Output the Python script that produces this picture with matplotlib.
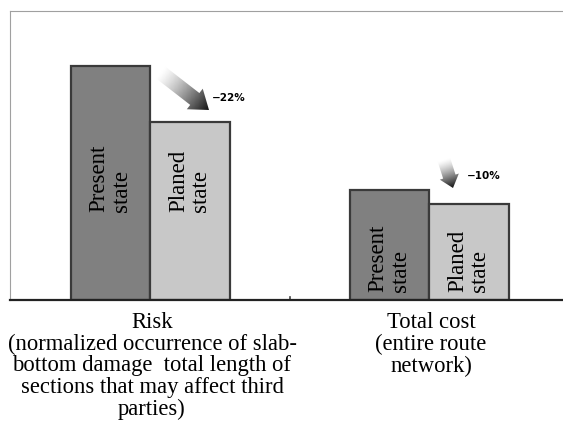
import numpy as np
import matplotlib
matplotlib.use('Agg')
import matplotlib.pyplot as plt
from matplotlib.patches import FancyArrow

# data (normalised to present-state risk)
groups = ['Risk\n(normalized occurrence of slab-\nbottom damage  total length of\nsections that may affect third\nparties)',
          'Total cost\n(entire route\nnetwork)']
present = [1.00, 0.47]
planed = [0.76, 0.41]
changes = ['\u221222%', '\u221210%']
bar_names = ['Present\nstate', 'Planed\nstate']

group_x = [150, 429]   # centres of each pair
bw = 79.5

plt.rcParams['font.family'] = ['Liberation Serif', 'DejaVu Serif']

fig = plt.figure(figsize=(5.63, 4.28), dpi=100)
ax = fig.add_axes([10/563, 128/428, 553/563, 289/428])

ax.bar(np.array(group_x) - bw/2, present, width=bw, color='#808080', edgecolor='#3a3a3a', linewidth=1.6)
ax.bar(np.array(group_x) + bw/2, planed, width=bw, color='#c8c8c8', edgecolor='#3a3a3a', linewidth=1.6)

text_bottom = [0.376, 0.034]
for i in range(len(group_x)):
    ax.text(group_x[i] - bw/2, text_bottom[i], bar_names[0], rotation=90, ha='center', va='bottom',
            fontsize=16.5, linespacing=1.08, multialignment='left')
    ax.text(group_x[i] + bw/2, text_bottom[i], bar_names[1], rotation=90, ha='center', va='bottom',
            fontsize=16.5, linespacing=1.08, multialignment='left')

ax.set_xlim(10, 563)
ax.set_ylim(0, 1.235)
ax.set_xticks([])
ax.set_yticks([])
ax.spines['right'].set_visible(False)
ax.spines['left'].set_color('#a0a0a0')
ax.spines['top'].set_color('#a0a0a0')
ax.spines['bottom'].set_color('#222222')
ax.spines['bottom'].set_linewidth(1.6)
ax.plot([290, 290], [0, 0.012], color='#444444', lw=1.2, clip_on=False)

for i in range(len(group_x)):
    ax.text(group_x[i] + 2, -0.05, groups[i], ha='center', va='top', fontsize=16.3, linespacing=1.05)

# overlay in pixel coordinates for the gradient arrows
ov = fig.add_axes([0, 0, 1, 1])
ov.set_xlim(0, 563)
ov.set_ylim(428, 0)
ov.axis('off')

def grad_arrow(x0, y0, x1, y1, w, hw, hl):
    arr = FancyArrow(x0, y0, x1 - x0, y1 - y0, width=w, head_width=hw, head_length=hl,
                     length_includes_head=True, facecolor='none', edgecolor='none')
    ov.add_patch(arr)
    xs = np.linspace(min(x0, x1) - 15, max(x0, x1) + 15, 60)
    ys = np.linspace(min(y0, y1) - 15, max(y0, y1) + 15, 60)
    X, Y = np.meshgrid(xs, ys)
    d = np.array([x1 - x0, y1 - y0])
    L = np.hypot(*d)
    t = ((X - x0) * d[0] + (Y - y0) * d[1]) / L**2
    t = np.clip(t, 0, 1)
    im = ov.imshow(1 - 0.92 * t**1.3, cmap='gray', vmin=0, vmax=1,
                   extent=[xs[0], xs[-1], ys[-1], ys[0]], zorder=3)
    im.set_clip_path(arr)

grad_arrow(160, 72, 209, 110, 15, 26, 18)
grad_arrow(444, 160, 453, 188, 13, 20, 12)

ov.set_xlim(0, 563)
ov.set_ylim(428, 0)
ov.set_aspect('auto')

ov.text(212, 98, changes[0], fontsize=7.5, fontweight='bold', family='DejaVu Sans', va='center')
ov.text(467, 176, changes[1], fontsize=7.5, fontweight='bold', family='DejaVu Sans', va='center')

fig.savefig('out.png', dpi=100)
